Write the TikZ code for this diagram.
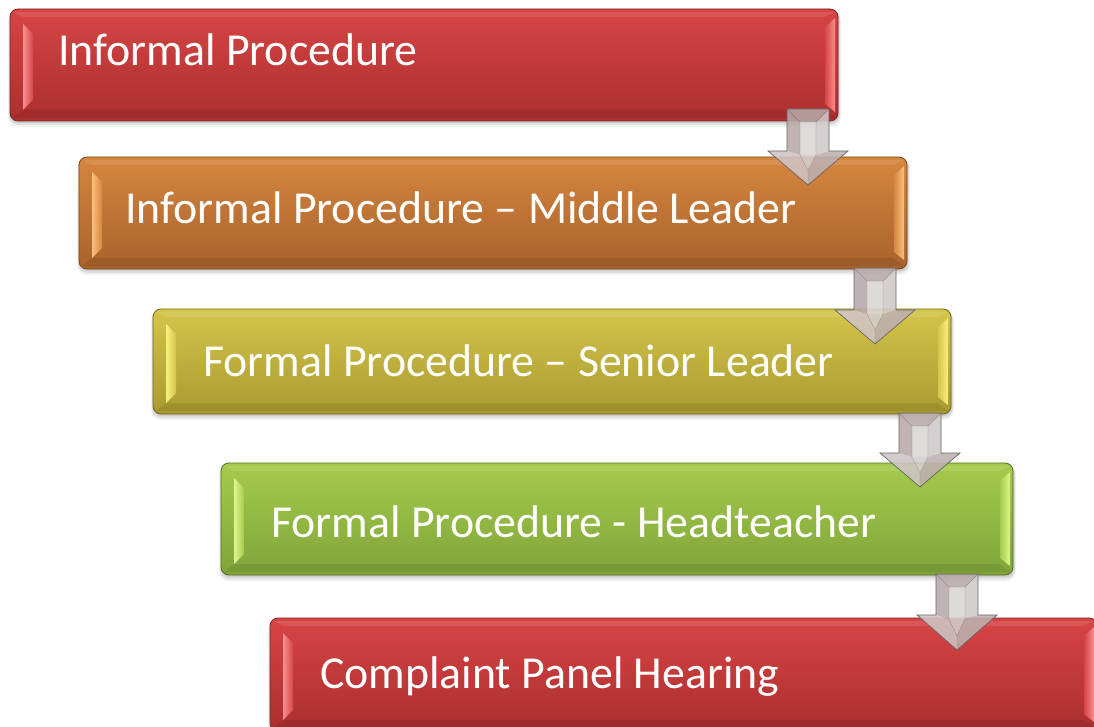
\documentclass[tikz,border=0pt]{standalone}
\usepackage{fontspec}
\setmainfont{Carlito}
\definecolor{redtop}{HTML}{D84444}
\definecolor{redbot}{HTML}{AA2F2F}
\definecolor{redhi}{HTML}{F79090}
\definecolor{rededge}{HTML}{7E2626}
\definecolor{ortop}{HTML}{D6863F}
\definecolor{orbot}{HTML}{A8622C}
\definecolor{orhi}{HTML}{F9C07E}
\definecolor{oredge}{HTML}{7A4820}
\definecolor{oltop}{HTML}{D4C54B}
\definecolor{olbot}{HTML}{A89A30}
\definecolor{olhi}{HTML}{F8F07E}
\definecolor{oledge}{HTML}{6F6620}
\definecolor{grtop}{HTML}{A5CB4C}
\definecolor{grbot}{HTML}{7FA43A}
\definecolor{grhi}{HTML}{E0F590}
\definecolor{gredge}{HTML}{566E25}
\definecolor{arredge}{HTML}{6B6363}
\definecolor{arrleft}{HTML}{B8A9A9}
\definecolor{arrmid}{HTML}{DAD6D6}
\definecolor{arrright}{HTML}{D0CACA}
\definecolor{arrhl}{HTML}{CEC4C4}
\definecolor{arrhr}{HTML}{BDB0B0}
\definecolor{arrhm}{HTML}{D3CDCD}
\tikzset{
  boxtext/.style={anchor=base west, inner sep=0pt, text=white, font=\fontsize{45.8}{54}\selectfont},
  facet/.style={fill opacity=0.88},
  arroutline/.style={draw=arredge, line width=0.7pt, line join=miter},
}
\newcommand\bevelbox[8]{%
  \fill[black,opacity=0.05,rounded corners=10pt] (#1-2,#2+2) rectangle (#3+3,#4+6);
  \fill[black,opacity=0.08,rounded corners=9pt] (#1-1,#2+1) rectangle (#3+2,#4+4);
  \fill[black,opacity=0.08,rounded corners=8pt] (#1,#2+1) rectangle (#3+1,#4+2);
  \shade[rounded corners=8pt, top color=#5, bottom color=#6] (#1,#2) rectangle (#3,#4);
  \fill[#6!85!black, opacity=0.45] (#1+13,#4-11) -- (#3-14,#4-11) -- (#3-3,#4-3) -- (#1+3,#4-3) -- cycle;
  \fill[white, opacity=0.10] (#1+3,#2+3) -- (#3-3,#2+3) -- (#3-14,#2+8) -- (#1+13,#2+8) -- cycle;
  \shade[left color=#7, right color=#5] (#1+13,#2+15) -- (#1+23,#2+25) -- (#1+23,#4-21) -- (#1+13,#4-11) -- cycle;
  \shade[left color=#5, right color=#7] (#3-13,#2+18) -- (#3-3,#2+9) -- (#3-3,#4-9) -- (#3-13,#4-17) -- cycle;
  \draw[#8, line width=0.8pt, rounded corners=8pt] (#1,#2) rectangle (#3,#4);
}
\newcommand\blockarrow[4]{%
  \fill[arrleft,facet] (#1-21,#2) -- (#1-8,#2+13) -- (#1-8,#3+4) -- (#1-21,#3) -- cycle;
  \fill[arrmid,facet] (#1-8,#2+13) -- (#1+8,#2+13) -- (#1+8,#3+4) -- (#1-8,#3+4) -- cycle;
  \fill[arrright,facet] (#1+21,#2) -- (#1+8,#2+13) -- (#1+8,#3+4) -- (#1+21,#3) -- cycle;
  \fill[arrhl,facet] (#1-40,#3) -- (#1,#4) -- (#1,#4-14) -- (#1-8,#3+4) -- (#1-21,#3) -- cycle;
  \fill[arrhr,facet] (#1+40,#3) -- (#1,#4) -- (#1,#4-14) -- (#1+8,#3+4) -- (#1+21,#3) -- cycle;
  \fill[arrhm,facet] (#1-8,#3+4) -- (#1+8,#3+4) -- (#1,#4-14) -- cycle;
  \fill[arrleft,facet] (#1-21,#2) -- (#1+21,#2) -- (#1+8,#2+13) -- (#1-8,#2+13) -- cycle;
  \draw[arredge, line width=0.4pt, opacity=0.5] (#1-21,#2) -- (#1-8,#2+13) -- (#1+8,#2+13) -- (#1+21,#2)
     (#1-8,#2+13) -- (#1-8,#3+4) -- (#1,#4-14) -- (#1+8,#3+4) -- (#1+8,#2+13)
     (#1,#4-14) -- (#1,#4);
  \draw[arroutline] (#1-21,#2) -- (#1+21,#2) -- (#1+21,#3) -- (#1+40,#3) -- (#1,#4) -- (#1-40,#3) -- (#1-21,#3) -- cycle;
}
\begin{document}
\begin{tikzpicture}[x=1pt,y=-1pt]
  \useasboundingbox (0,0) rectangle (1094,727);
  \clip (0,0) rectangle (1094,727);
  \fill[white] (0,0) rectangle (1094,727);
  % boxes
  \bevelbox{10}{9}{838}{121}{redtop}{redbot}{redhi}{rededge}
  \bevelbox{79}{157}{907}{269}{ortop}{orbot}{orhi}{oredge}
  \bevelbox{153}{309}{951}{414}{oltop}{olbot}{olhi}{oledge}
  \bevelbox{221}{463}{1013}{575}{grtop}{grbot}{grhi}{gredge}
  \bevelbox{270}{618}{1097}{731}{redtop}{redbot}{redhi}{rededge}
  % labels
  \node[boxtext] (t1) at (58,66) {Informal Procedure};
  \node[boxtext] (t2) at (125,224) {Informal Procedure – Middle Leader};
  \node[boxtext] (t3) at (203,376) {Formal Procedure – Senior Leader};
  \node[boxtext] (t4) at (271,537) {Formal Procedure - Headteacher};
  \node[boxtext] (t5) at (320,688) {Complaint Panel Hearing};
  % arrows
  \blockarrow{808}{109}{151}{185}
  \blockarrow{875}{268}{310}{344}
  \blockarrow{920}{413}{453}{487}
  \blockarrow{957}{574}{615}{650}
\end{tikzpicture}
\end{document}
